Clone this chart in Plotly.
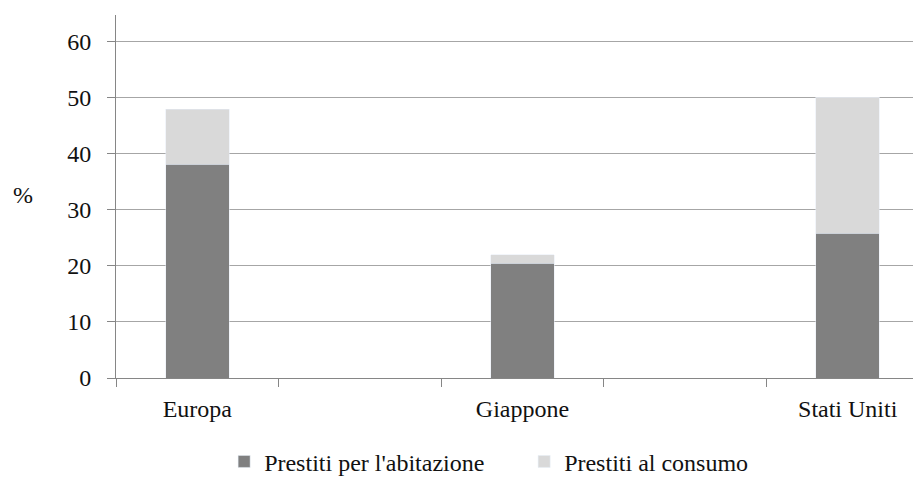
import plotly.graph_objects as go

# categorie (con due spazi vuoti tra i paesi, come nel grafico originale)
paesi = ["Europa", "Giappone", "Stati Uniti"]
ordine_categorie = ["Europa", " ", "Giappone", "  ", "Stati Uniti"]

abitazione = [38.2, 20.5, 25.8]
consumo = [9.8, 1.5, 24.3]

FONT = "'Liberation Serif', 'Times New Roman', 'DejaVu Serif', serif"

fig = go.Figure()
fig.add_bar(x=paesi, y=abitazione, name="Prestiti per l'abitazione",
            marker_color="#808080", width=0.39)
fig.add_bar(x=paesi, y=consumo, name="Prestiti al consumo",
            marker_color="#d9d9d9", width=0.39)

fig.update_layout(
    width=921, height=483,
    barmode="stack",
    plot_bgcolor="white", paper_bgcolor="white",
    margin=dict(l=108, r=0, t=7, b=113),
    font=dict(family=FONT, size=24, color="#111111"),
    legend=dict(orientation="h", x=0.133, xanchor="left",
                y=-0.231, yanchor="middle",
                font=dict(family=FONT, size=24), entrywidth=255,
                traceorder="normal"),
)
fig.update_xaxes(
    type="category", categoryorder="array", categoryarray=ordine_categorie,
    range=[-0.5, 4.5], tickson="boundaries", ticks="outside", ticklen=8,
    tickcolor="#868686", showline=True, linecolor="#868686", linewidth=1,
    showgrid=False, ticklabelstandoff=9, tickfont=dict(family=FONT, size=24),
)
fig.update_yaxes(
    range=[0, 64.8], dtick=10, tick0=0, ticks="outside", ticklen=8,
    tickcolor="#868686", showline=True, linecolor="#868686", linewidth=1,
    showgrid=True, gridcolor="#a6a6a6", gridwidth=1, zeroline=False,
    ticklabelstandoff=11, tickfont=dict(family=FONT, size=24),
)
fig.add_annotation(text="%", xref="paper", yref="paper",
                   x=(23 - 116) / 813, y=(378 - 195) / 363, showarrow=False,
                   xanchor="center", yanchor="middle",
                   font=dict(family=FONT, size=24))

fig.write_html("out.html")
